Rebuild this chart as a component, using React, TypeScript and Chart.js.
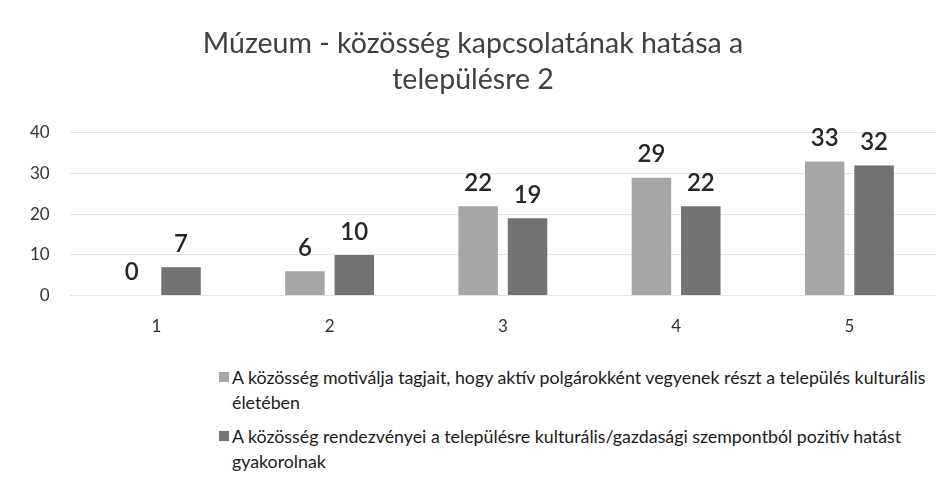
import React, { useEffect, useRef } from "react";
import { Chart, registerables } from "chart.js";

Chart.register(...registerables);

const titleLines = ["Múzeum - közösség kapcsolatának hatása a", "településre 2"];
const categories = ["1", "2", "3", "4", "5"];
const seriesNames = [
  "A közösség motiválja tagjait, hogy aktív polgárokként vegyenek részt a település kulturális életében",
  "A közösség rendezvényei a településre kulturális/gazdasági szempontból pozitív hatást gyakorolnak",
];
const legendLines = [
  ["A közösség motiválja tagjait, hogy aktív polgárokként vegyenek részt a település kulturális", "életében"],
  ["A közösség rendezvényei a településre kulturális/gazdasági szempontból pozitív hatást", "gyakorolnak"],
];
const series1 = [0, 6, 22, 29, 33];
const series2 = [7, 10, 19, 22, 32];
const yTicks = [0, 10, 20, 30, 40];
const colors = ["#a6a6a6", "#737373"];

const FONT = "Lato, 'Open Sans', sans-serif";

const labelPlugin = {
  id: "valueLabels",
  afterDatasetsDraw(chart: any) {
    const ctx = chart.ctx;
    ctx.save();
    ctx.font = `600 24px ${FONT}`;
    ctx.fillStyle = "#262626";
    ctx.textAlign = "center";
    ctx.textBaseline = "bottom";
    chart.data.datasets.forEach((ds: any, di: number) => {
      const meta = chart.getDatasetMeta(di);
      meta.data.forEach((bar: any, i: number) => {
        ctx.fillText(String(ds.data[i]), bar.x, bar.y - 11);
      });
    });
    ctx.restore();
  },
};

export default function App() {
  const ref = useRef<HTMLCanvasElement>(null);
  useEffect(() => {
    if (!ref.current) return;
    const chart = new Chart(ref.current, {
      type: "bar",
      data: {
        labels: categories,
        datasets: [
          { label: seriesNames[0], data: series1, backgroundColor: colors[0] },
          { label: seriesNames[1], data: series2, backgroundColor: colors[1] },
        ],
      },
      options: {
        animation: false,
        responsive: false,
        maintainAspectRatio: false,
        layout: { padding: { left: 10, right: 16, top: 0, bottom: 8 } },
        datasets: { bar: { barPercentage: 0.8, categoryPercentage: 0.57 } } as any,
        plugins: {
          legend: { display: false },
          tooltip: { enabled: false },
          title: {
            display: true,
            text: titleLines,
            color: "#404040",
            font: { family: FONT, size: 28.5, weight: "normal", lineHeight: 1.263 },
            padding: { top: 26, bottom: 35 },
          },
        },
        scales: {
          x: {
            grid: { display: false },
            border: { display: false },
            ticks: { color: "#333333", font: { family: FONT, size: 17 }, padding: 13 },
          },
          y: {
            min: 0,
            max: 40,
            afterBuildTicks: (axis: any) => {
              axis.ticks = yTicks.map((v) => ({ value: v }));
            },
            grid: { color: "#e3e3e3", drawTicks: false },
            border: { display: false },
            ticks: { color: "#333333", font: { family: FONT, size: 17 }, padding: 20 },
          },
        },
      },
      plugins: [labelPlugin],
    });
    return () => chart.destroy();
  }, []);

  return (
    <div style={{ position: "fixed", left: 0, top: 0, width: 952, height: 479, background: "#fff", overflow: "hidden" }}>
      <canvas ref={ref} width={952} height={358} style={{ position: "absolute", left: 0, top: 0 }} />
      <div
        style={{
          position: "absolute",
          left: 219,
          top: 365,
          fontFamily: FONT,
          fontSize: 17.8,
          lineHeight: "25px",
          color: "#1a1a1a",
        }}
      >
        {legendLines.map((lines, i) => (
          <div key={i} style={{ position: "relative", paddingLeft: 13, marginBottom: 9, whiteSpace: "nowrap" }}>
            <span
              style={{
                position: "absolute",
                left: 0,
                top: 7,
                width: 10,
                height: 10,
                background: colors[i],
              }}
            />
            {lines.map((l, j) => (
              <div key={j}>{l}</div>
            ))}
          </div>
        ))}
      </div>
    </div>
  );
}
